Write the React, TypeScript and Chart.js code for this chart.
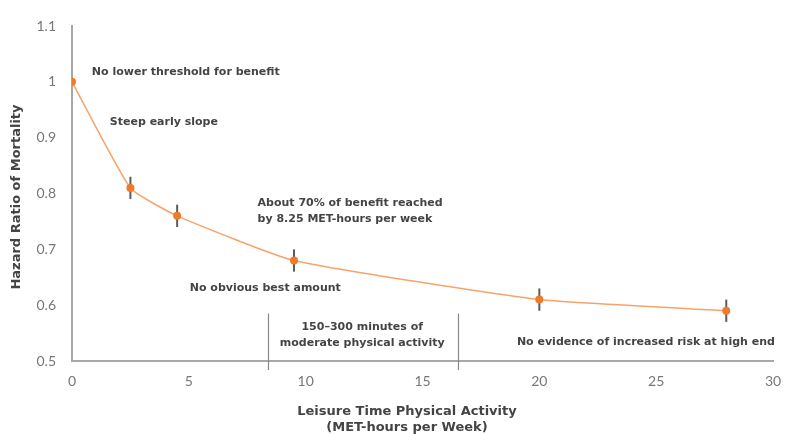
import React, { useEffect, useRef } from "react";
import { Chart, registerables } from "chart.js";

Chart.register(...registerables);

const xValues = [0, 2.5, 4.5, 9.5, 20, 28];
const hazardRatios = [1.0, 0.81, 0.76, 0.68, 0.61, 0.59];
const errorLow = [1.0, 0.79, 0.74, 0.66, 0.59, 0.57];
const errorHigh = [1.0, 0.83, 0.78, 0.7, 0.63, 0.61];
const xTicks = [0, 5, 10, 15, 20, 25, 30];
const yTicks = [0.5, 0.6, 0.7, 0.8, 0.9, 1, 1.1];
const rangeMarkers = [8.4, 16.5];
const rangeMarkerTop = 0.585;

type Note = { lines: string[]; x: number; y: number; align: CanvasTextAlign };
const notes: Note[] = [
  { lines: ["No lower threshold for benefit"], x: 0.85, y: 1.018, align: "left" },
  { lines: ["Steep early slope"], x: 1.62, y: 0.927, align: "left" },
  { lines: ["About 70% of benefit reached", "by 8.25 MET-hours per week"], x: 7.94, y: 0.783, align: "left" },
  { lines: ["No obvious best amount"], x: 5.04, y: 0.631, align: "left" },
  { lines: ["150–300 minutes of", "moderate physical activity"], x: 12.42, y: 0.561, align: "center" },
  { lines: ["No evidence of increased risk at high end"], x: 19.04, y: 0.534, align: "left" },
];

const xTitle = ["Leisure Time Physical Activity", "(MET-hours per Week)"];
const yTitle = "Hazard Ratio of Mortality";

const FONT = "Lato, 'Open Sans', sans-serif";
const NOTE_FONT = "'DejaVu Sans', sans-serif";
const TEXT = "#444444";

export default function App() {
  const ref = useRef<HTMLCanvasElement>(null);
  useEffect(() => {
    if (!ref.current) return;
    const overlay = {
      id: "overlay",
      beforeDatasetsDraw(chart: any) {
        const { ctx, scales } = chart;
        const xs = scales.x;
        const ys = scales.y;
        ctx.save();
        ctx.strokeStyle = "#5c5c5c";
        ctx.lineWidth = 2;
        xValues.forEach((xv, i) => {
          if (errorHigh[i] === errorLow[i]) return;
          const px = xs.getPixelForValue(xv);
          ctx.beginPath();
          ctx.moveTo(px, ys.getPixelForValue(errorLow[i]));
          ctx.lineTo(px, ys.getPixelForValue(errorHigh[i]));
          ctx.stroke();
        });
        ctx.restore();
      },
      afterDraw(chart: any) {
        const { ctx, scales, chartArea } = chart;
        const xs = scales.x;
        const ys = scales.y;
        ctx.save();
        ctx.strokeStyle = "#888888";
        ctx.lineWidth = 1.2;
        rangeMarkers.forEach((m) => {
          const px = Math.round(xs.getPixelForValue(m)) + 0.5;
          ctx.beginPath();
          ctx.moveTo(px, ys.getPixelForValue(rangeMarkerTop));
          ctx.lineTo(px, chartArea.bottom + 9);
          ctx.stroke();
        });
        ctx.fillStyle = TEXT;
        ctx.font = `bold 11px ${NOTE_FONT}`;
        ctx.textBaseline = "middle";
        notes.forEach((n) => {
          ctx.textAlign = n.align;
          const px = xs.getPixelForValue(n.x);
          const py = ys.getPixelForValue(n.y);
          n.lines.forEach((l, i) => ctx.fillText(l, px, py + i * 16.5));
        });
        ctx.font = `bold 13px ${NOTE_FONT}`;
        ctx.textAlign = "center";
        const cx = 407;
        xTitle.forEach((l, i) => ctx.fillText(l, cx, chartArea.bottom + 51 + i * 16));
        ctx.translate(17, 197);
        ctx.rotate(-Math.PI / 2);
        ctx.fillText(yTitle, 0, 0);
        ctx.restore();
      },
    };
    const chart = new Chart(ref.current, {
      type: "scatter",
      data: {
        datasets: [
          {
            data: xValues.map((x, i) => ({ x, y: hazardRatios[i] })),
            showLine: true,
            borderColor: "#F6A46A",
            borderWidth: 1.5,
            backgroundColor: "#EE7A2A",
            pointBackgroundColor: "#EE7A2A",
            pointBorderWidth: 0,
            pointRadius: 4,
            tension: 0.15,
          },
        ],
      },
      options: {
        animation: false,
        responsive: false,
        maintainAspectRatio: false,
        layout: { padding: { left: 0, top: 26, right: 12, bottom: 0 } },
        plugins: { legend: { display: false }, tooltip: { enabled: false } },
        scales: {
          x: {
            type: "linear",
            min: 0,
            max: 30,
            afterBuildTicks: (s: any) => {
              s.ticks = xTicks.map((v) => ({ value: v }));
            },
            afterFit: (s: any) => {
              s.height = 434 - 361;
              s.paddingRight = 0;
              s.paddingLeft = 0;
            },
            grid: { display: false, drawTicks: false },
            border: { color: "#a8a8a8", width: 2 },
            ticks: { color: "#777777", font: { family: FONT, size: 14 }, padding: 12 },
          },
          y: {
            type: "linear",
            min: 0.5,
            max: 1.1,
            afterBuildTicks: (s: any) => {
              s.ticks = yTicks.map((v) => ({ value: v }));
            },
            afterFit: (s: any) => {
              s.width = 72;
              s.paddingTop = 0;
              s.paddingBottom = 0;
            },
            grid: { display: false, drawTicks: false },
            border: { color: "#a8a8a8", width: 2 },
            ticks: {
              color: "#777777",
              font: { family: FONT, size: 14 },
              padding: 16,
              callback: (v: any) => String(v),
            },
          },
        },
      },
      plugins: [overlay],
    });
    return () => chart.destroy();
  }, []);
  return (
    <div style={{ position: "fixed", left: 0, top: 0, width: 785, height: 434, background: "#fff" }}>
      <canvas ref={ref} width={785} height={434} style={{ display: "block" }} />
    </div>
  );
}
